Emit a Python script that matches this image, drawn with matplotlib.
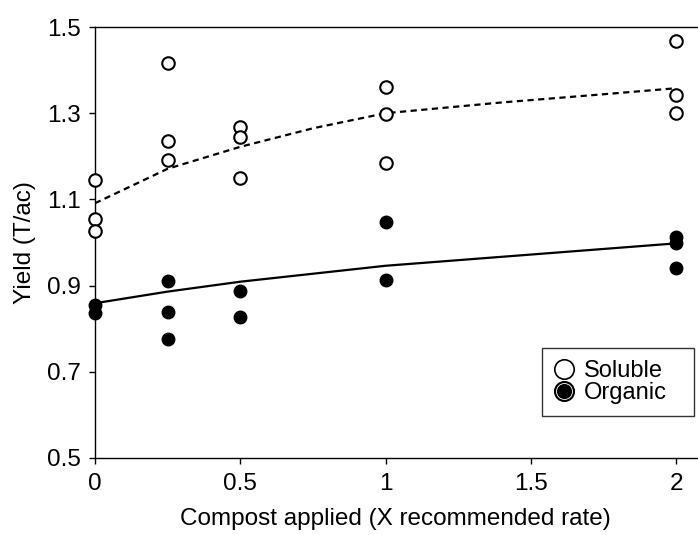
import matplotlib
matplotlib.use("Agg")
import matplotlib.pyplot as plt
from matplotlib.lines import Line2D

plt.rcParams["font.family"] = ["Liberation Sans", "DejaVu Sans"]

# raw observations (x = compost rate, y = yield T/ac)
sol_x = [0, 0, 0, 0.25, 0.25, 0.25, 0.5, 0.5, 0.5, 1, 1, 1, 2, 2, 2]
sol_y = [1.144, 1.054, 1.027, 1.417, 1.235, 1.191, 1.269, 1.245, 1.149,
         1.360, 1.298, 1.184, 1.467, 1.342, 1.301]
org_x = [0, 0, 0.25, 0.25, 0.25, 0.5, 0.5, 1, 1, 2, 2, 2]
org_y = [0.855, 0.836, 0.911, 0.839, 0.776, 0.887, 0.828, 1.048, 0.913,
         1.012, 0.998, 0.941]

# fitted curves
sol_fit_x = [0, 0.25, 0.5, 0.75, 1, 1.4, 1.75, 2]
sol_fit_y = [1.091, 1.171, 1.222, 1.265, 1.300, 1.325, 1.344, 1.358]
org_fit_x = [0, 0.25, 0.5, 1, 1.5, 2]
org_fit_y = [0.859, 0.886, 0.909, 0.946, 0.972, 0.998]

fig = plt.figure(figsize=(6.98, 5.35), dpi=100)
ax = fig.add_axes([0.136, 0.144, 0.862, 0.8055])

ax.plot(sol_fit_x, sol_fit_y, color="black", lw=1.6, ls=(0, (2.8, 2.0)))
ax.plot(org_fit_x, org_fit_y, color="black", lw=1.6)
ax.plot(sol_x, sol_y, "o", ms=9, mfc="white", mec="black", mew=1.5, ls="none", clip_on=False, zorder=3)
ax.plot(org_x, org_y, "o", ms=9, mfc="black", mec="black", mew=1.0, ls="none", clip_on=False, zorder=3)

ax.set_xlim(0, 2.07)
ax.set_ylim(0.5, 1.5)
ax.set_xticks([0, 0.5, 1, 1.5, 2])
ax.set_xticklabels(["0", "0.5", "1", "1.5", "2"])
ax.set_yticks([0.5, 0.7, 0.9, 1.1, 1.3, 1.5])
ax.set_yticklabels(["0.5", "0.7", "0.9", "1.1", "1.3", "1.5"])
ax.tick_params(direction="out", length=4, width=1, labelsize=17.5)
ax.tick_params(axis="x", pad=7)
ax.tick_params(axis="y", pad=6)
ax.spines["right"].set_visible(False)
for s in ["left", "bottom", "top"]:
    ax.spines[s].set_linewidth(1.0)

ax.set_xlabel("Compost applied (X recommended rate)", fontsize=17.5, labelpad=9)
ax.set_ylabel("Yield (T/ac)", fontsize=17.5, labelpad=8)

h_sol = Line2D([], [], marker="o", ms=14, mfc="white", mec="black", mew=1.2, ls="none")
h_org1 = Line2D([], [], marker="o", ms=14, mfc="black", mec="black", mew=1.2, ls="none")
h_org2 = Line2D([], [], marker="o", ms=11.5, mfc="black", mec="white", mew=0.6, ls="none")
leg = ax.legend([h_sol, (h_org1, h_org2)], ["Soluble", "Organic"],
                loc="upper left", bbox_to_anchor=(0.7425, 0.0, 0.2525, 0.255),
                mode="expand", borderaxespad=0,
                fontsize=17, frameon=True, fancybox=False, edgecolor="black",
                handlelength=0.9, handletextpad=0.4, labelspacing=0.0,
                borderpad=0.5)
leg.get_frame().set_linewidth(1.0)

fig.savefig("out.png", dpi=100, facecolor="white")
